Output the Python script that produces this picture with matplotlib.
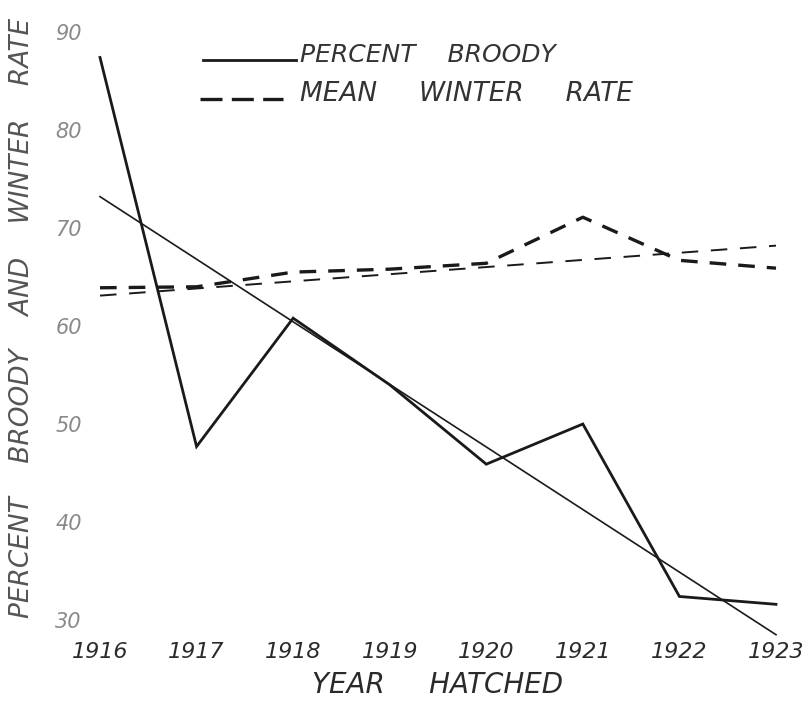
import matplotlib
matplotlib.use("Agg")
import matplotlib.pyplot as plt

# Year hatched and the two measured series
years = [1916, 1917, 1918, 1919, 1920, 1921, 1922, 1923]
percent_broody = [87.4, 47.7, 60.8, 54.0, 45.9, 50.0, 32.4, 31.6]
mean_winter_rate = [63.9, 64.0, 65.5, 65.8, 66.4, 71.1, 66.7, 65.9]

# Fitted straight-line trends (end points)
trend_years = [1916, 1923]
broody_trend = [73.2, 28.5]
winter_trend = [63.1, 68.2]

y_ticks = [30, 40, 50, 60, 70, 80, 90]
x_tick_labels = ["1916", "1917", "1918", "1919", "1920", "1921", "1922", "1923"]

W, H = 811, 701
fig = plt.figure(figsize=(W / 100, H / 100), dpi=100)
ax = fig.add_axes([100 / W, 1 - 620 / H, 676 / W, 588 / H])
ax.set_xlim(1916, 1923)
ax.set_ylim(30, 90)

ink = "#1a1a1a"
ax.plot(years, percent_broody, color=ink, lw=2.0, clip_on=False,
        solid_joinstyle="miter")
ax.plot(trend_years, broody_trend, color=ink, lw=1.2, clip_on=False)
ax.plot(years, mean_winter_rate, color=ink, lw=2.4, clip_on=False,
        dashes=(5.0, 3.6))
ax.plot(trend_years, winter_trend, color=ink, lw=1.4, clip_on=False,
        dashes=(8.5, 6.5))

for s in ax.spines.values():
    s.set_visible(False)

font = dict(family="DejaVu Sans", style="italic")
ax.set_xticks(years)
ax.set_xticklabels(x_tick_labels, fontsize=16, color="#2a2a2a", **font)
ax.set_yticks(y_ticks)
ax.set_yticklabels([str(v) for v in y_ticks], fontsize=15, color="#8a8a8a", **font)
ax.tick_params(axis="both", length=0)
ax.tick_params(axis="x", pad=16)
ax.tick_params(axis="y", pad=13)

# Axis titles
fig.text(22 / W, 1 - 318 / H, "PERCENT    BROODY    AND    WINTER    RATE",
         rotation=90, ha="center", va="center", fontsize=19,
         color="#555555", **font)
fig.text(438 / W, 1 - 685 / H, "YEAR     HATCHED", ha="center", va="center",
         fontsize=20, color="#2a2a2a", **font)

# Key
fig.add_artist(plt.Line2D([203 / W, 296 / W], [1 - 60 / H, 1 - 60 / H],
                          color=ink, lw=2.0))
fig.add_artist(plt.Line2D([200 / W, 283 / W], [1 - 99 / H, 1 - 99 / H],
                          color=ink, lw=2.4, dashes=(6.6, 2.8)))
fig.text(300 / W, 1 - 55 / H, "PERCENT    BROODY", ha="left", va="center",
         fontsize=18, color="#333333", **font)
fig.text(300 / W, 1 - 94 / H, "MEAN     WINTER     RATE", ha="left", va="center",
         fontsize=19, color="#333333", **font)

fig.savefig("out.png", dpi=100, facecolor="white")
